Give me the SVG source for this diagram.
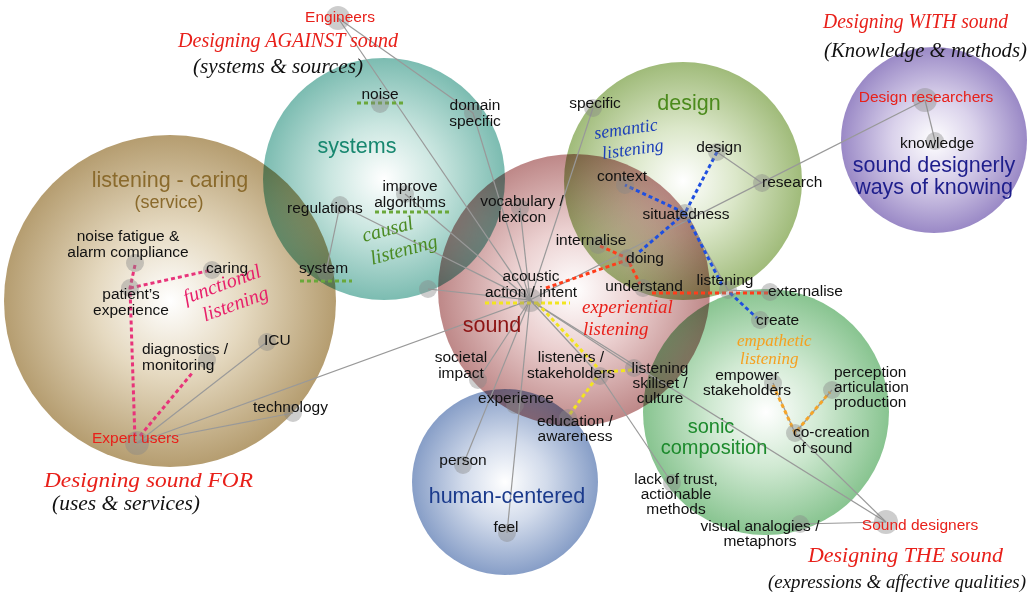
<svg xmlns="http://www.w3.org/2000/svg" width="1033" height="601" viewBox="0 0 1033 601">
<defs>
<radialGradient id="gTan" cx="0.5" cy="0.5" r="0.5"><stop offset="0" stop-color="#ffffff"/><stop offset="0.45" stop-color="#e5d9c0"/><stop offset="1" stop-color="#b59d70"/></radialGradient>
<radialGradient id="gTeal" cx="0.5" cy="0.5" r="0.5"><stop offset="0" stop-color="#ffffff"/><stop offset="0.45" stop-color="#cae6e0"/><stop offset="1" stop-color="#7cbcb1"/></radialGradient>
<radialGradient id="gPink" cx="0.5" cy="0.5" r="0.5"><stop offset="0" stop-color="#ffffff"/><stop offset="0.45" stop-color="#ebd0d0"/><stop offset="1" stop-color="#be8888"/></radialGradient>
<radialGradient id="gDesign" cx="0.5" cy="0.5" r="0.5"><stop offset="0" stop-color="#ffffff"/><stop offset="0.45" stop-color="#dbe7c9"/><stop offset="1" stop-color="#a0bb7a"/></radialGradient>
<radialGradient id="gPurple" cx="0.5" cy="0.5" r="0.5"><stop offset="0" stop-color="#ffffff"/><stop offset="0.45" stop-color="#dad2eb"/><stop offset="1" stop-color="#9a89c6"/></radialGradient>
<radialGradient id="gSonic" cx="0.5" cy="0.5" r="0.5"><stop offset="0" stop-color="#ffffff"/><stop offset="0.45" stop-color="#d0e9d2"/><stop offset="1" stop-color="#88c490"/></radialGradient>
<radialGradient id="gBlue" cx="0.5" cy="0.5" r="0.5"><stop offset="0" stop-color="#ffffff"/><stop offset="0.45" stop-color="#d2dbeb"/><stop offset="1" stop-color="#879ec7"/></radialGradient>
<style>
.bub{mix-blend-mode:multiply}
.ln{stroke:#999;stroke-width:1.2;fill:none}
.d{fill:none;stroke-width:3;stroke-dasharray:4 3}
.pk{stroke:#e8337a}.gr{stroke:#6aa83a}.bl{stroke:#1f4fe0}.rd{stroke:#ff3d1a}.yl{stroke:#f2e520}.or{stroke:#f5a52a}
.dot{fill:#888;opacity:0.42}
.lb{font-family:"Liberation Sans",Arial,sans-serif;font-size:15.5px;fill:#111}
.red{fill:#e8201a}
.ttl{font-family:"Liberation Sans",Arial,sans-serif;font-size:21.5px}
.hw{font-family:"Liberation Serif","Times New Roman",serif;font-style:italic}
</style>
</defs>
<rect width="1033" height="601" fill="#ffffff"/>
<g id="bubbles">
<circle class="bub" cx="170" cy="301" r="166" fill="url(#gTan)"/>
<circle class="bub" cx="384" cy="179" r="121" fill="url(#gTeal)"/>
<circle class="bub" cx="683" cy="181" r="119" fill="url(#gDesign)"/>
<circle class="bub" cx="574" cy="290" r="136" fill="url(#gPink)"/>
<circle class="bub" cx="934" cy="140" r="93" fill="url(#gPurple)"/>
<circle class="bub" cx="766" cy="412" r="123" fill="url(#gSonic)"/>
<circle class="bub" cx="505" cy="482" r="93" fill="url(#gBlue)"/>
</g>
<g id="connectors">
<line class="ln" x1="338" y1="18" x2="473" y2="113"/>
<line class="ln" x1="338" y1="18" x2="530" y2="300"/>
<line class="ln" x1="473" y1="113" x2="530" y2="300"/>
<line class="ln" x1="405" y1="194" x2="530" y2="300"/>
<line class="ln" x1="340" y1="205" x2="530" y2="300"/>
<line class="ln" x1="340" y1="205" x2="326" y2="272"/>
<line class="ln" x1="428" y1="289" x2="530" y2="300"/>
<line class="ln" x1="520" y1="208" x2="530" y2="300"/>
<line class="ln" x1="593" y1="108" x2="530" y2="300"/>
<line class="ln" x1="530" y1="300" x2="925" y2="100"/>
<line class="ln" x1="925" y1="100" x2="935" y2="141"/>
<line class="ln" x1="717" y1="152" x2="762" y2="183"/>
<line class="ln" x1="685" y1="213" x2="728" y2="290"/>
<line class="ln" x1="728" y1="290" x2="770" y2="292"/>
<line class="ln" x1="530" y1="300" x2="478" y2="380"/>
<line class="ln" x1="530" y1="300" x2="463" y2="465"/>
<line class="ln" x1="530" y1="300" x2="507" y2="533"/>
<line class="ln" x1="530" y1="300" x2="600" y2="376"/>
<line class="ln" x1="600" y1="376" x2="672" y2="483"/>
<line class="ln" x1="530" y1="300" x2="634" y2="368"/>
<line class="ln" x1="530" y1="300" x2="886" y2="522"/>
<line class="ln" x1="795" y1="433" x2="886" y2="522"/>
<line class="ln" x1="800" y1="524" x2="886" y2="522"/>
<line class="ln" x1="773" y1="383" x2="795" y2="433"/>
<line class="ln" x1="832" y1="390" x2="795" y2="433"/>
<line class="ln" x1="137" y1="443" x2="267" y2="342"/>
<line class="ln" x1="137" y1="443" x2="293" y2="413"/>
<line class="ln" x1="137" y1="443" x2="530" y2="300"/>
<path class="d gr" d="M357 103H403M375 212H452M300 281H352"/>
<path class="d pk" d="M135 265L130 288L135 440M130 288L212 270M140 436L193 372"/>
<path class="d rd" d="M546 288L627 260M600 246L627 258L640 284M652 293H770"/>
<path class="d bl" d="M717 152L685 213L625 185M685 213L638 253M685 213L722 285M730 293L757 318"/>
<path class="d yl" d="M485 303H570M537 303L597 367M600 372L633 370M597 377L570 414"/>
<path class="d or" d="M773 385L795 433L830 392"/>
</g>
<g id="n-engineers"><circle class="dot" cx="338" cy="18" r="12"/><text class="lb red" x="340" y="22" text-anchor="middle">Engineers</text></g>
<g id="n-noise"><circle class="dot" cx="380" cy="104" r="9"/><text class="lb" x="380" y="99" text-anchor="middle">noise</text></g>
<g id="n-domain"><circle class="dot" cx="473" cy="113" r="9"/><text class="lb" text-anchor="middle"><tspan x="475" y="110">domain</tspan><tspan x="475" y="126">specific</tspan></text></g>
<g id="n-systems"><text class="ttl" x="357" y="153" text-anchor="middle" fill="#17876f">systems</text></g>
<g id="n-improve"><circle class="dot" cx="405" cy="194" r="9"/><text class="lb" text-anchor="middle"><tspan x="410" y="191">improve</tspan><tspan x="410" y="207">algorithms</tspan></text></g>
<g id="n-regulations"><circle class="dot" cx="340" cy="205" r="9"/><text class="lb" x="287" y="213">regulations</text></g>
<g id="n-system"><circle class="dot" cx="326" cy="272" r="9"/><text class="lb" x="299" y="273">system</text></g>
<g id="n-unnamed"><circle class="dot" cx="428" cy="289" r="9"/></g>
<g id="n-vocab"><circle class="dot" cx="520" cy="208" r="9"/><text class="lb" text-anchor="middle"><tspan x="522" y="206">vocabulary /</tspan><tspan x="522" y="222">lexicon</tspan></text></g>
<g id="n-hub"><circle class="dot" cx="530" cy="300" r="12"/><text class="lb" text-anchor="middle"><tspan x="531" y="281">acoustic</tspan><tspan x="531" y="297">action / intent</tspan></text></g>
<g id="n-sound"><text class="ttl" x="492" y="332" text-anchor="middle" fill="#8c1414">sound</text></g>
<g id="n-specific"><circle class="dot" cx="593" cy="108" r="9"/><text class="lb" x="595" y="108" text-anchor="middle">specific</text></g>
<g id="n-design-title"><text class="ttl" x="689" y="110" text-anchor="middle" fill="#4b8a1c">design</text></g>
<g id="n-design"><circle class="dot" cx="717" cy="152" r="9"/><text class="lb" x="719" y="152" text-anchor="middle">design</text></g>
<g id="n-research"><circle class="dot" cx="762" cy="183" r="9"/><text class="lb" x="762" y="187">research</text></g>
<g id="n-context"><circle class="dot" cx="625" cy="185" r="9"/><text class="lb" x="622" y="181" text-anchor="middle">context</text></g>
<g id="n-situatedness"><circle class="dot" cx="685" cy="213" r="9"/><text class="lb" x="686" y="219" text-anchor="middle">situatedness</text></g>
<g id="n-internalise"><circle class="dot" cx="598" cy="245" r="9"/><text class="lb" x="591" y="245" text-anchor="middle">internalise</text></g>
<g id="n-doing"><circle class="dot" cx="627" cy="258" r="9"/><text class="lb" x="645" y="263" text-anchor="middle">doing</text></g>
<g id="n-understand"><circle class="dot" cx="643" cy="288" r="9"/><text class="lb" x="644" y="291" text-anchor="middle">understand</text></g>
<g id="n-listening"><circle class="dot" cx="728" cy="290" r="9"/><text class="lb" x="725" y="285" text-anchor="middle">listening</text></g>
<g id="n-externalise"><circle class="dot" cx="770" cy="292" r="9"/><text class="lb" x="768" y="296">externalise</text></g>
<g id="n-create"><circle class="dot" cx="760" cy="320" r="9"/><text class="lb" x="756" y="325">create</text></g>
<g id="n-designres"><circle class="dot" cx="925" cy="100" r="12"/><text class="lb red" x="926" y="102" text-anchor="middle">Design researchers</text></g>
<g id="n-knowledge"><circle class="dot" cx="935" cy="141" r="9"/><text class="lb" x="937" y="148" text-anchor="middle">knowledge</text></g>
<g id="n-designerly"><text class="ttl" text-anchor="middle" fill="#1e1e8c" font-size="21"><tspan x="934" y="172">sound designerly</tspan><tspan x="934" y="194">ways of knowing</tspan></text></g>
<g id="n-caring-title"><text class="ttl" text-anchor="middle" fill="#8a6a2c"><tspan x="170" y="187">listening - caring</tspan><tspan x="169" y="208" font-size="18">(service)</tspan></text></g>
<g id="n-noisefatigue"><circle class="dot" cx="135" cy="263" r="9"/><text class="lb" text-anchor="middle"><tspan x="128" y="241">noise fatigue &amp;</tspan><tspan x="128" y="257">alarm compliance</tspan></text></g>
<g id="n-caring"><circle class="dot" cx="212" cy="270" r="9"/><text class="lb" x="206" y="273">caring</text></g>
<g id="n-patients"><circle class="dot" cx="130" cy="288" r="9"/><text class="lb" text-anchor="middle"><tspan x="131" y="299">patient’s</tspan><tspan x="131" y="315">experience</tspan></text></g>
<g id="n-icu"><circle class="dot" cx="267" cy="342" r="9"/><text class="lb" x="264" y="345">ICU</text></g>
<g id="n-diagnostics"><circle class="dot" cx="207" cy="360" r="9"/><text class="lb"><tspan x="142" y="354">diagnostics /</tspan><tspan x="142" y="370">monitoring</tspan></text></g>
<g id="n-technology"><circle class="dot" cx="293" cy="413" r="9"/><text class="lb" x="253" y="412">technology</text></g>
<g id="n-expert"><circle class="dot" cx="137" cy="443" r="12"/><text class="lb red" x="92" y="443">Expert users</text></g>
<g id="n-societal"><circle class="dot" cx="478" cy="380" r="9"/><text class="lb" text-anchor="middle"><tspan x="461" y="362">societal</tspan><tspan x="461" y="378">impact</tspan></text></g>
<g id="n-listeners"><circle class="dot" cx="600" cy="376" r="9"/><text class="lb" text-anchor="middle"><tspan x="571" y="362">listeners /</tspan><tspan x="571" y="378">stakeholders</tspan></text></g>
<g id="n-skillset"><circle class="dot" cx="634" cy="368" r="9"/><text class="lb" text-anchor="middle"><tspan x="660" y="373">listening</tspan><tspan x="660" y="388">skillset /</tspan><tspan x="660" y="403">culture</tspan></text></g>
<g id="n-experience"><circle class="dot" cx="515" cy="405" r="9"/><text class="lb" x="516" y="403" text-anchor="middle">experience</text></g>
<g id="n-education"><circle class="dot" cx="568" cy="418" r="9"/><text class="lb" text-anchor="middle"><tspan x="575" y="426">education /</tspan><tspan x="575" y="441">awareness</tspan></text></g>
<g id="n-person"><circle class="dot" cx="463" cy="465" r="9"/><text class="lb" x="463" y="465" text-anchor="middle">person</text></g>
<g id="n-human"><text class="ttl" x="507" y="503" text-anchor="middle" fill="#1a3a8c">human-centered</text></g>
<g id="n-feel"><circle class="dot" cx="507" cy="533" r="9"/><text class="lb" x="506" y="532" text-anchor="middle">feel</text></g>
<g id="n-lack"><circle class="dot" cx="672" cy="483" r="9"/><text class="lb" text-anchor="middle"><tspan x="676" y="484">lack of trust,</tspan><tspan x="676" y="499">actionable</tspan><tspan x="676" y="514">methods</tspan></text></g>
<g id="n-visual"><circle class="dot" cx="800" cy="524" r="9"/><text class="lb" text-anchor="middle"><tspan x="760" y="531">visual analogies /</tspan><tspan x="760" y="546">metaphors</tspan></text></g>
<g id="n-sounddesigners"><circle class="dot" cx="886" cy="522" r="12"/><text class="lb red" x="920" y="530" text-anchor="middle">Sound designers</text></g>
<g id="n-empower"><circle class="dot" cx="773" cy="383" r="9"/><text class="lb" text-anchor="middle"><tspan x="747" y="380">empower</tspan><tspan x="747" y="395">stakeholders</tspan></text></g>
<g id="n-perception"><circle class="dot" cx="832" cy="390" r="9"/><text class="lb"><tspan x="834" y="377">perception</tspan><tspan x="834" y="392">articulation</tspan><tspan x="834" y="407">production</tspan></text></g>
<g id="n-cocreation"><circle class="dot" cx="795" cy="433" r="9"/><text class="lb"><tspan x="793" y="437">co-creation</tspan><tspan x="793" y="453">of sound</tspan></text></g>
<g id="n-sonic"><text text-anchor="middle" fill="#1c8a2c" font-family="Liberation Sans, Arial, sans-serif" font-size="20"><tspan x="711" y="433">sonic</tspan><tspan x="714" y="454">composition</tspan></text></g>
<g id="annotations">
<text class="hw" x="178" y="47" font-size="21" fill="#e8201a" textLength="220" lengthAdjust="spacingAndGlyphs">Designing AGAINST sound</text>
<text class="hw" x="193" y="73" font-size="20" fill="#111" textLength="170" lengthAdjust="spacingAndGlyphs">(systems &amp; sources)</text>
<text class="hw" x="823" y="28" font-size="21" fill="#e8201a" textLength="185" lengthAdjust="spacingAndGlyphs">Designing WITH sound</text>
<text class="hw" x="824" y="57" font-size="20" fill="#111" textLength="203" lengthAdjust="spacingAndGlyphs">(Knowledge &amp; methods)</text>
<text class="hw" x="44" y="487" font-size="21" fill="#e8201a" textLength="209" lengthAdjust="spacingAndGlyphs">Designing sound FOR</text>
<text class="hw" x="52" y="510" font-size="20" fill="#111" textLength="148" lengthAdjust="spacingAndGlyphs">(uses &amp; services)</text>
<text class="hw" x="808" y="562" font-size="21" fill="#e8201a" textLength="195" lengthAdjust="spacingAndGlyphs">Designing THE sound</text>
<text class="hw" x="768" y="588" font-size="19" fill="#111" textLength="258" lengthAdjust="spacingAndGlyphs">(expressions &amp; affective qualities)</text>
<g transform="rotate(-8 595 139)"><text class="hw" font-size="18" fill="#1c3fb8"><tspan x="595" y="139">semantic</tspan><tspan x="600" y="160">listening</tspan></text></g>
<g transform="rotate(-15 364 242)"><text class="hw" font-size="20" fill="#4a8a22"><tspan x="364" y="242">causal</tspan><tspan x="366" y="266">listening</tspan></text></g>
<g transform="rotate(-20 186 304)"><text class="hw" font-size="20" fill="#e8206a"><tspan x="186" y="304">functional</tspan><tspan x="198" y="327">listening</tspan></text></g>
<text class="hw" font-size="19" fill="#e8201a"><tspan x="582" y="313">experiential</tspan><tspan x="583" y="335">listening</tspan></text>
<text class="hw" font-size="17" fill="#f5a020"><tspan x="737" y="346">empathetic</tspan><tspan x="740" y="364">listening</tspan></text>
</g>
</svg>
